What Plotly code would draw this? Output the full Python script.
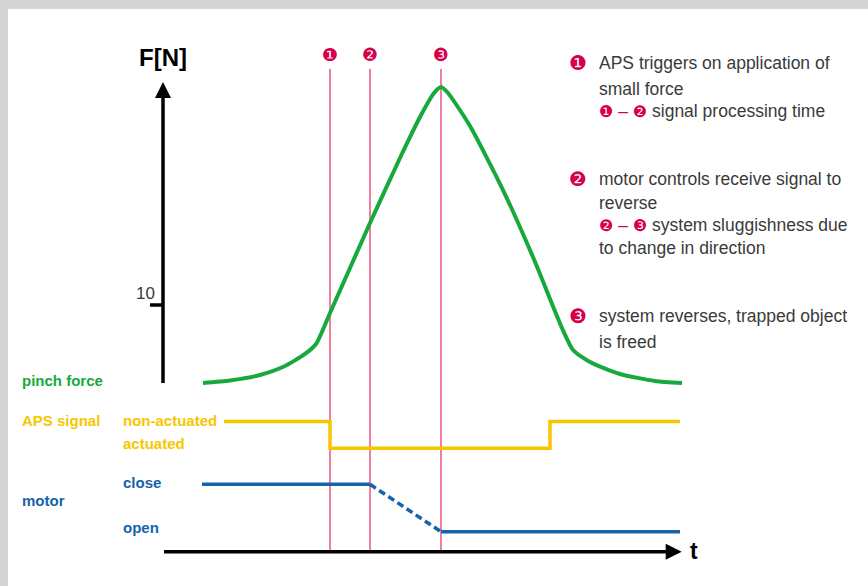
import plotly.graph_objects as go

# ---------------- data ----------------
# time axis is in arbitrary units (one unit ~ one pixel of the original figure)
TIME = [203, 230, 260, 285, 305, 316, 330, 370, 400, 420, 434, 441,
        448, 470, 503, 533, 562, 573, 590, 620, 655, 682]
PINCH_FORCE_N = [0.0, 0.32, 1.03, 2.18, 3.72, 5.0, 8.97, 20.51, 28.85, 34.1, 37.18, 37.95,
                 37.18, 32.95, 24.74, 16.15, 7.05, 4.23, 2.69, 1.15, 0.26, 0.0]

EVENT_TIMES = [330, 370, 441]
EVENT_LABELS = ["❶", "❷", "❸"]

APS_TIME = [224, 330, 330, 550, 550, 680]
APS_STATE = [1, 1, 0, 0, 1, 1]          # 1 = non-actuated, 0 = actuated

MOTOR_CLOSE_TIME = [202, 370]
MOTOR_CHANGE_TIME = [370, 441]
MOTOR_OPEN_TIME = [441, 680]

FORCE_TICK = 10
FORCE_TICK_LABEL = "10"

NOTES = [
    ["❶", "APS triggers on application of", "small force",
     ("❶", "❷", "signal processing time")],
    ["❷", "motor controls receive signal to", "reverse",
     ("❷", "❸", "system sluggishness due"), "to change in direction"],
    ["❸", "system reverses, trapped object", "is freed"],
]

# ---------------- layout constants ----------------
W, H = 868, 586
PX_PER_N = 7.8
ZERO_PX = 383
Y_TOP = ZERO_PX / PX_PER_N
Y_BOT = Y_TOP - H / PX_PER_N

APS_LEVEL = {1: -4.94, 0: -8.37}
MOTOR_CLOSE_Y = -12.99
MOTOR_OPEN_Y = -19.06
T_AXIS_Y = -21.63
EVENT_TOP_Y = 40.26
F_AXIS_TIP = 38.59
F_AXIS_X = 163
T_AXIS_X0, T_AXIS_TIP = 164, 681.7

GREEN = "#17a93b"
YELLOW = "#f6c700"
BLUE = "#1563ab"
PINK = "#e9557f"
CRIMSON = "#d6004b"
TEXT = "#3a3a3a"
FONT = "Liberation Sans, Arial, DejaVu Sans, sans-serif"

fig = go.Figure()

# event lines
for t in EVENT_TIMES:
    fig.add_trace(go.Scatter(x=[t, t], y=[T_AXIS_Y, EVENT_TOP_Y], mode="lines",
                             line=dict(color=PINK, width=1.5), hoverinfo="skip"))

# F axis with arrow
fig.add_trace(go.Scatter(x=[F_AXIS_X, F_AXIS_X], y=[0, F_AXIS_TIP - 15 / PX_PER_N], mode="lines",
                         line=dict(color="black", width=3.5), hoverinfo="skip"))
fig.add_trace(go.Scatter(x=[F_AXIS_X], y=[F_AXIS_TIP], mode="markers",
                         marker=dict(symbol="arrow-up", size=16, color="black",
                                     line=dict(width=0)), hoverinfo="skip"))
# tick at 10 N
fig.add_trace(go.Scatter(x=[F_AXIS_X - 13, F_AXIS_X], y=[FORCE_TICK, FORCE_TICK], mode="lines",
                         line=dict(color="black", width=3.5), hoverinfo="skip"))

# t axis with arrow
fig.add_trace(go.Scatter(x=[T_AXIS_X0, T_AXIS_TIP - 15], y=[T_AXIS_Y, T_AXIS_Y], mode="lines",
                         line=dict(color="black", width=3.5), hoverinfo="skip"))
fig.add_trace(go.Scatter(x=[T_AXIS_TIP], y=[T_AXIS_Y], mode="markers",
                         marker=dict(symbol="arrow-right", size=16, color="black",
                                     line=dict(width=0)), hoverinfo="skip"))

# pinch force
fig.add_trace(go.Scatter(x=TIME, y=PINCH_FORCE_N, mode="lines",
                         line=dict(color=GREEN, width=4, shape="spline", smoothing=0.6),
                         hoverinfo="skip"))

# APS signal
fig.add_trace(go.Scatter(x=APS_TIME, y=[APS_LEVEL[s] for s in APS_STATE], mode="lines",
                         line=dict(color=YELLOW, width=3.5), hoverinfo="skip"))

# motor
fig.add_trace(go.Scatter(x=MOTOR_CLOSE_TIME, y=[MOTOR_CLOSE_Y] * 2, mode="lines",
                         line=dict(color=BLUE, width=3.5), hoverinfo="skip"))
fig.add_trace(go.Scatter(x=MOTOR_CHANGE_TIME, y=[MOTOR_CLOSE_Y, MOTOR_OPEN_Y], mode="lines",
                         line=dict(color=BLUE, width=3.5, dash="7px,4px"), hoverinfo="skip"))
fig.add_trace(go.Scatter(x=MOTOR_OPEN_TIME, y=[MOTOR_OPEN_Y] * 2, mode="lines",
                         line=dict(color=BLUE, width=3.5), hoverinfo="skip"))

annotations = []


def ann(text, x, y, size, color, weight="normal", xanchor="center"):
    annotations.append(dict(text=text, x=x / W, y=1 - y / H, xref="paper", yref="paper",
                            showarrow=False, xanchor=xanchor, yanchor="middle",
                            font=dict(family=FONT, size=size, color=color, weight=weight)))


ann("F[N]", 163, 57, 24, "black", "bold")
ann(FORCE_TICK_LABEL, 145, 293, 17, TEXT)
ann("t", 694, 551, 23, "black", "bold")
for t, lab in zip(EVENT_TIMES, EVENT_LABELS):
    ann(lab, t, 55, 18, CRIMSON)

LABEL_SIZE = 15
ann("pinch force", 20, 380, LABEL_SIZE, GREEN, "bold", "left")
ann("APS signal", 20, 420, LABEL_SIZE, YELLOW, "bold", "left")
ann("non-actuated", 121, 420, LABEL_SIZE, YELLOW, "bold", "left")
ann("actuated", 121, 443, LABEL_SIZE, YELLOW, "bold", "left")
ann("close", 121, 482, LABEL_SIZE, BLUE, "bold", "left")
ann("motor", 20, 500, LABEL_SIZE, BLUE, "bold", "left")
ann("open", 121, 527, LABEL_SIZE, BLUE, "bold", "left")

NOTE_LINE_Y = [[63, 89, 111], [179, 203, 225, 248], [316, 342]]
for note, ys in zip(NOTES, NOTE_LINE_Y):
    ann(note[0], 578, ys[0], 20, CRIMSON)
    for line, y in zip(note[1:], ys):
        if isinstance(line, tuple):
            a, b, rest = line
            txt = (f"<span style='color:{CRIMSON};font-size:16px'>{a}</span>"
                   f"<span style='color:{CRIMSON}'> – </span>"
                   f"<span style='color:{CRIMSON};font-size:16px'>{b}</span> {rest}")
        else:
            txt = line
        ann(txt, 597, y, 17.5, TEXT, "normal", "left")

fig.update_layout(
    width=W, height=H, margin=dict(l=0, r=0, t=0, b=0),
    paper_bgcolor="#d5d5d5", plot_bgcolor="rgba(0,0,0,0)",
    showlegend=False,
    xaxis=dict(range=[0, W], visible=False, fixedrange=True),
    yaxis=dict(range=[Y_BOT, Y_TOP], visible=False, fixedrange=True),
    shapes=[dict(type="rect", xref="paper", yref="paper", x0=8 / W, x1=1, y0=0, y1=1 - 9 / H,
                 fillcolor="white", line=dict(width=0), layer="below")],
    annotations=annotations,
)

fig.write_html("out.html", config={"displayModeBar": False},
               post_script="document.body.style.margin='0';document.body.style.overflow='hidden';")
